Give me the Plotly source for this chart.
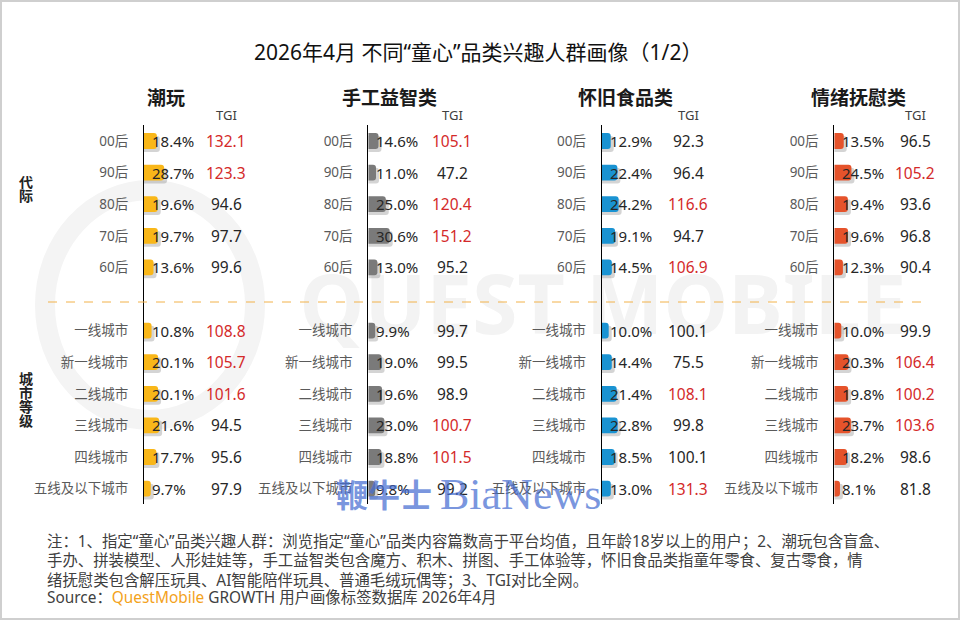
import plotly.graph_objects as go

# ---------------- data ----------------
categories = ["潮玩", "手工益智类", "怀旧食品类", "情绪抚慰类"]
generations = ["00后", "90后", "80后", "70后", "60后"]
city_tiers = ["一线城市", "新一线城市", "二线城市", "三线城市", "四线城市", "五线及以下城市"]

share_gen_chaowan = [18.4, 28.7, 19.6, 19.7, 13.6]
share_gen_shougong = [14.6, 11.0, 25.0, 30.6, 13.0]
share_gen_huaijiu = [12.9, 22.4, 24.2, 19.1, 14.5]
share_gen_qingxu = [13.5, 24.5, 19.4, 19.6, 12.3]

tgi_gen_chaowan = [132.1, 123.3, 94.6, 97.7, 99.6]
tgi_gen_shougong = [105.1, 47.2, 120.4, 151.2, 95.2]
tgi_gen_huaijiu = [92.3, 96.4, 116.6, 94.7, 106.9]
tgi_gen_qingxu = [96.5, 105.2, 93.6, 96.8, 90.4]

share_city_chaowan = [10.8, 20.1, 20.1, 21.6, 17.7, 9.7]
share_city_shougong = [9.9, 19.0, 19.6, 23.0, 18.8, 9.8]
share_city_huaijiu = [10.0, 14.4, 21.4, 22.8, 18.5, 13.0]
share_city_qingxu = [10.0, 20.3, 19.8, 23.7, 18.2, 8.1]

tgi_city_chaowan = [108.8, 105.7, 101.6, 94.5, 95.6, 97.9]
tgi_city_shougong = [99.7, 99.5, 98.9, 100.7, 101.5, 99.2]
tgi_city_huaijiu = [100.1, 75.5, 108.1, 99.8, 100.1, 131.3]
tgi_city_qingxu = [99.9, 106.4, 100.2, 103.6, 98.6, 81.8]

share_gen = [share_gen_chaowan, share_gen_shougong, share_gen_huaijiu, share_gen_qingxu]
share_city = [share_city_chaowan, share_city_shougong, share_city_huaijiu, share_city_qingxu]
tgi_gen = [tgi_gen_chaowan, tgi_gen_shougong, tgi_gen_huaijiu, tgi_gen_qingxu]
tgi_city = [tgi_city_chaowan, tgi_city_shougong, tgi_city_huaijiu, tgi_city_qingxu]

TGI_HIGHLIGHT_MIN = 100.2

# ---------------- styling / layout ----------------
W, H = 960, 620
FONT = "Noto Sans, Noto Sans CJK SC, sans-serif"
bar_colors = ["#F9B719", "#7A7A7A", "#1A93D2", "#E5532B"]
axis_px = [144, 368.3, 601.7, 834.3]
tgi_px = [226, 452, 688, 915]
title_px = [165.5, 389, 625, 858.5]
PX_PER_UNIT = 0.7          # bar scale (px per %)
AX_WIDTH_PX = 100
ROW0_PX, ROW_STEP = 141, 31.6
Y_TOP_PX, Y_BOT_PX = 125, 504


def px_x(p):
    return p / W


def px_y(p):
    return 1 - p / H


gen_rows = list(range(len(generations)))
city_rows = [len(generations) + 1 + i for i in range(len(city_tiers))]
rows = gen_rows + city_rows
labels = generations + city_tiers

y_range = [(Y_BOT_PX - ROW0_PX) / ROW_STEP, (Y_TOP_PX - ROW0_PX) / ROW_STEP]
y_domain = [px_y(Y_BOT_PX), px_y(Y_TOP_PX)]
SHADOW_DX = 3 / PX_PER_UNIT
SHADOW_DY = 3 / ROW_STEP

fig = go.Figure()
annotations = []
layout_axes = {}


def note(xpx, ypx, text, size, color="#222", xanchor="center", family=FONT):
    return dict(xref="paper", yref="paper", x=px_x(xpx), y=px_y(ypx), text=text,
                xanchor=xanchor, yanchor="middle", showarrow=False,
                font=dict(family=family, size=size, color=color))


for k, cat in enumerate(categories):
    sfx = "" if k == 0 else str(k + 1)
    xa, ya = "x" + sfx, "y" + sfx
    vals = share_gen[k] + share_city[k]
    tgis = tgi_gen[k] + tgi_city[k]

    fig.add_trace(go.Bar(
        x=[v + SHADOW_DX for v in vals], y=[r + SHADOW_DY for r in rows],
        orientation="h", width=0.5, xaxis=xa, yaxis=ya,
        marker=dict(color="rgba(0,0,0,0.17)", cornerradius=3, line=dict(width=0)),
        hoverinfo="skip", showlegend=False))
    fig.add_trace(go.Bar(
        x=vals, y=rows, orientation="h", width=0.5, xaxis=xa, yaxis=ya,
        marker=dict(color=bar_colors[k], cornerradius=3, line=dict(width=0)),
        showlegend=False, name=cat))

    layout_axes["xaxis" + sfx] = dict(
        domain=[px_x(axis_px[k]), px_x(axis_px[k] + AX_WIDTH_PX)],
        range=[0, AX_WIDTH_PX / PX_PER_UNIT], visible=False, fixedrange=True)
    layout_axes["yaxis" + sfx] = dict(
        domain=y_domain, range=y_range, anchor=xa,
        tickvals=rows, ticktext=labels, ticks="", ticklabelstandoff=12,
        tickfont=dict(family=FONT, size=13.5, color="#5a5a5a"),
        showline=True, linecolor="#000000", linewidth=1,
        showgrid=False, zeroline=False, fixedrange=True)

    for r, v, t in zip(rows, vals, tgis):
        annotations.append(dict(
            xref=xa, yref=ya, x=0, y=r, text=f"{v:.1f}%", xanchor="left", yanchor="middle",
            xshift=6, showarrow=False, font=dict(family=FONT, size=15, color="#262626")))
        annotations.append(dict(
            xref="paper", yref=ya, x=px_x(tgi_px[k]), y=r, text=f"{t:.1f}",
            xanchor="center", yanchor="middle", showarrow=False,
            font=dict(family=FONT, size=15.5,
                      color="#D42A2A" if t >= TGI_HIGHLIGHT_MIN else "#262626")))

    annotations.append(note(title_px[k], 98, f"<b>{cat}</b>", 19, "#1a1a1a"))
    annotations.append(note(tgi_px[k], 114.5, "TGI", 13, "#404040"))

# group labels (vertical)
for ch, ypx in zip("代际", [181.5, 195.5]):
    annotations.append(note(26, ypx, f"<b>{ch}</b>", 14, "#222"))
for ch, ypx in zip("城市等级", [378.5, 392.5, 406.5, 420.5]):
    annotations.append(note(26, ypx, f"<b>{ch}</b>", 14, "#222"))

# title
annotations.append(note(478, 52, "2026年4月 不同“童心”品类兴趣人群画像（1/2）", 21, "#111"))

# footnotes
notes = [
    "注：1、指定“童心”品类兴趣人群：浏览指定“童心”品类内容篇数高于平台均值，且年龄18岁以上的用户；2、潮玩包含盲盒、",
    "手办、拼装模型、人形娃娃等，手工益智类包含魔方、积木、拼图、手工体验等，怀旧食品类指童年零食、复古零食，情",
    "绪抚慰类包含解压玩具、AI智能陪伴玩具、普通毛绒玩偶等；3、TGI对比全网。",
    "Source：<span style='color:#F3A21B'>QuestMobile</span> GROWTH 用户画像标签数据库 2026年4月",
]
for line, ypx in zip(notes, [541, 560.5, 580, 597.5]):
    annotations.append(note(45, ypx, line, 15.4, "#404040", xanchor="left"))

# overlay watermark (on top, like the reference)
annotations.append(note(384, 493, "<b>鞭牛士</b>", 32, "rgba(70,110,210,0.72)",
                        family="Noto Sans CJK SC"))
annotations.append(note(438, 494, "BiaNews", 44, "rgba(70,110,210,0.72)", xanchor="left",
                        family="Liberation Serif"))

shapes = [
    # faint background logo (below the data)
    dict(type="circle", xref="paper", yref="paper", layer="below",
         x0=px_x(150 - 105), x1=px_x(150 + 105), y0=px_y(305 + 115), y1=px_y(305 - 115),
         line=dict(color="#f4f4f4", width=20)),
    dict(type="rect", xref="paper", yref="paper", layer="below",
         x0=px_x(280), x1=px_x(926), y0=px_y(345), y1=px_y(270),
         line=dict(width=0), fillcolor="rgba(0,0,0,0)",
         label=dict(text="<b>QUEST MOBILE</b>", textposition="middle center",
                    font=dict(family="Noto Sans", size=82, color="#f3f3f3"))),
    dict(type="line", xref="paper", yref="paper", x0=px_x(48), x1=px_x(928),
         y0=px_y(302), y1=px_y(302), line=dict(color="#F2B24A", width=1, dash="dash")),
    dict(type="rect", xref="paper", yref="paper", x0=px_x(1), x1=px_x(959),
         y0=px_y(619), y1=px_y(1), line=dict(color="#cfcfcf", width=2)),
]

fig.update_layout(
    width=W, height=H, margin=dict(l=0, r=0, t=0, b=0),
    paper_bgcolor="white", plot_bgcolor="rgba(0,0,0,0)",
    barmode="overlay", showlegend=False,
    annotations=annotations, shapes=shapes,
    font=dict(family=FONT),
    **layout_axes,
)

fig.write_html("out.html", config={"displayModeBar": False},
               post_script="document.body.style.margin='0px';")
